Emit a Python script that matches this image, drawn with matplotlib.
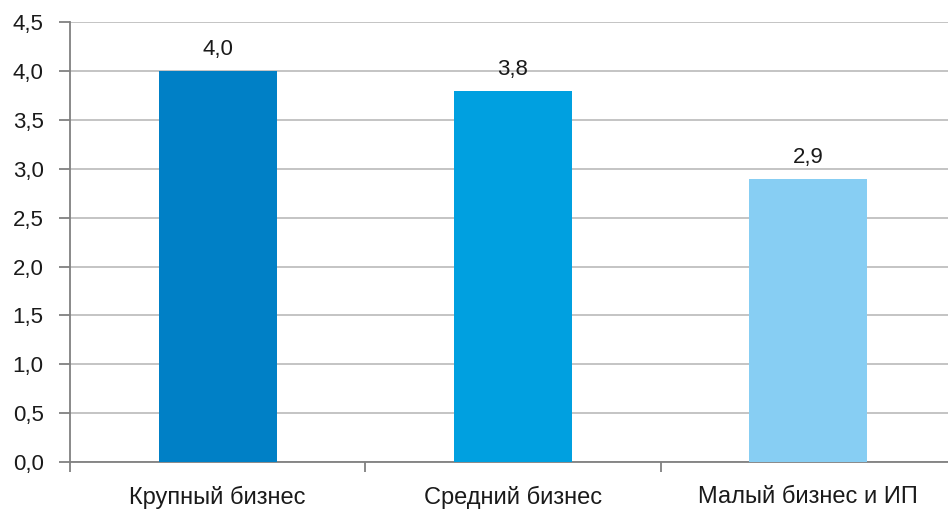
import matplotlib.pyplot as plt
import numpy as np

categories = ['Крупный бизнес', 'Средний бизнес', 'Малый бизнес и ИП']
values = [4.0, 3.8, 2.9]
bar_colors = ['#0080C6', '#00A0E0', '#87CEF3']
y_ticks = [0.0, 0.5, 1.0, 1.5, 2.0, 2.5, 3.0, 3.5, 4.0, 4.5]

plt.rcParams['font.family'] = ['Liberation Sans', 'DejaVu Sans']

fig = plt.figure(figsize=(9.48, 5.18), dpi=100)
ax = fig.add_axes([0.0738, 0.108, 0.9346, 0.849])

x = np.arange(len(categories))
bars = ax.bar(x, values, width=0.4, color=bar_colors, zorder=3)

for b, v in zip(bars, values):
    ax.annotate(f'{v:.1f}'.replace('.', ','),
                (b.get_x() + b.get_width() / 2, v),
                xytext=(0, 8), textcoords='offset points',
                ha='center', va='bottom', fontsize=16, color='#1a1a1a')

ax.set_xlim(-0.5, len(categories) - 0.5)
ax.set_ylim(0, 4.5)
ax.set_yticks(y_ticks)
ax.set_yticklabels([f'{t:.1f}'.replace('.', ',') for t in y_ticks])
ax.yaxis.grid(True, color='#BFBFBF', linewidth=1.3, zorder=0)

# category ticks sit on the boundaries between groups
ax.set_xticks(x)
ax.set_xticklabels(categories)
ax.set_xticks(np.arange(len(categories) + 1) - 0.5, minor=True)
ax.tick_params(axis='x', which='major', length=0, pad=17, labelsize=17, labelcolor='#1a1a1a')
ax.tick_params(axis='x', which='minor', length=7, width=1.3, color='#808080', direction='out')
ax.tick_params(axis='y', length=8, width=1.3, color='#808080', pad=11, labelsize=16, labelcolor='#1a1a1a')

for side in ['top', 'right']:
    ax.spines[side].set_visible(False)
for side in ['left', 'bottom']:
    ax.spines[side].set_color('#808080')
    ax.spines[side].set_linewidth(1.3)

fig.savefig('out.png', dpi=100)
